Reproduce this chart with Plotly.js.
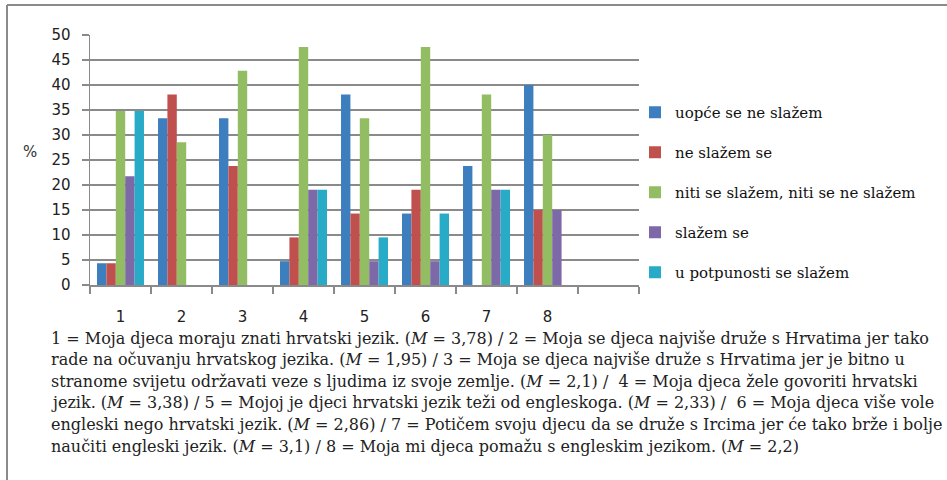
<!DOCTYPE html>
<html>
<head>
<meta charset="utf-8">
<script src="https://cdn.plot.ly/plotly-3.0.1.min.js"></script>
<style>
html,body{margin:0;padding:0;background:#fff;}
#chart{width:947px;height:480px;}
</style>
</head>
<body>
<div id="chart"></div>
<script>
// ---- data ----
var categories = ['1', '2', '3', '4', '5', '6', '7', '8'];
var seriesNames = [
  'uopće se ne slažem',
  'ne slažem se',
  'niti se slažem, niti se ne slažem',
  'slažem se',
  'u potpunosti se slažem'
];
var uopceSeNeSlazem      = [4.35, 33.33, 33.33, 4.76, 38.10, 14.29, 23.81, 40.0];
var neSlazemSe           = [4.35, 38.10, 23.81, 9.52, 14.29, 19.05, 0,     15.0];
var nitiSeSlazem         = [34.78, 28.57, 42.86, 47.62, 33.33, 47.62, 38.10, 30.0];
var slazemSe             = [21.74, 0,     0,     19.05, 4.76,  4.76,  19.05, 15.0];
var uPotpunostiSeSlazem  = [34.78, 0,     0,     19.05, 9.52,  14.29, 19.05, 0];
var yTickValues = [0, 5, 10, 15, 20, 25, 30, 35, 40, 45, 50];
var captionLines = [
  '1 = Moja djeca moraju znati hrvatski jezik. (<i>M</i> = 3,78) / 2 = Moja se djeca najviše druže s Hrvatima jer tako',
  'rade na očuvanju hrvatskog jezika. (<i>M</i> = 1,95) / 3 = Moja se djeca najviše druže s Hrvatima jer je bitno u',
  'stranome svijetu održavati veze s ljudima iz svoje zemlje. (<i>M</i> = 2,1) /  4 = Moja djeca žele govoriti hrvatski',
  'jezik. (<i>M</i> = 3,38) / 5 = Mojoj je djeci hrvatski jezik teži od engleskoga. (<i>M</i> = 2,33) /  6 = Moja djeca više vole',
  'engleski nego hrvatski jezik. (<i>M</i> = 2,86) / 7 = Potičem svoju djecu da se druže s Ircima jer će tako brže i bolje',
  'naučiti engleski jezik. (<i>M</i> = 3,1) / 8 = Moja mi djeca pomažu s engleskim jezikom. (<i>M</i> = 2,2)'
];

// ---- styles ----
var serif = '"DejaVu Serif", "Liberation Serif", serif';
var sans = '"DejaVu Sans", sans-serif';
var colors = ['#3D7EBF', '#C0504D', '#93BD63', '#7D68A8', '#27ABC7'];
var allSeries = [uopceSeNeSlazem, neSlazemSe, nitiSeSlazem, slazemSe, uPotpunostiSeSlazem];
var xPos = categories.map(function (c, i) { return i + 1; });

var traces = allSeries.map(function (vals, k) {
  return {
    type: 'bar',
    name: seriesNames[k],
    x: xPos,
    y: vals,
    legendgroup: 'g' + k,
    marker: {color: colors[k], line: {width: 0}},
    hoverinfo: 'skip'
  };
});

// plot area in pixels: x 90..639, y 35..285
var L = 90, R = 639, T = 35, B = 285;
var PW = R - L, PH = B - T;
function px(x) { return (x - L) / PW; }
function py(y) { return (B - y) / PH; }

var annotations = [{
  text: '%', xref: 'paper', yref: 'paper', x: px(30), y: py(152),
  xanchor: 'center', yanchor: 'middle', showarrow: false,
  font: {family: sans, size: 15, color: '#333'}
}];
captionLines.forEach(function (t, i) {
  annotations.push({
    text: t, xref: 'paper', yref: 'paper', x: px(49), y: py(338 + i * 21.6),
    xanchor: 'left', yanchor: 'middle', showarrow: false, align: 'left',
    font: {family: serif, size: 16, color: '#222'}
  });
});

var frameColor = '#8a8a8a';
var shapes = [
  {type: 'line', xref: 'paper', yref: 'paper', x0: px(7), x1: px(947), y0: py(5), y1: py(5),
   line: {color: frameColor, width: 2}},
  {type: 'line', xref: 'paper', yref: 'paper', x0: px(7), x1: px(7), y0: py(5), y1: py(480),
   line: {color: frameColor, width: 2}}
];

var layout = {
  width: 947, height: 480,
  margin: {l: L, r: 947 - R, t: T, b: 480 - B, pad: 0},
  paper_bgcolor: '#fff', plot_bgcolor: '#fff',
  barmode: 'group', bargap: 0.23, bargroupgap: 0,
  showlegend: true,
  legend: {
    x: px(635), y: py(96), xanchor: 'left', yanchor: 'top',
    font: {family: serif, size: 15, color: '#111'},
    tracegroupgap: 17.5, itemwidth: 30, bgcolor: 'rgba(0,0,0,0)'
  },
  xaxis: {
    range: [0.5, 9.5], tickvals: xPos, ticktext: categories,
    ticks: '', showgrid: false, zeroline: false,
    showline: true, linecolor: frameColor, linewidth: 1.5,
    ticklabelstandoff: 17,
    tickfont: {family: sans, size: 15, color: '#222'},
    minor: {tick0: 0.5, dtick: 1, ticks: 'outside', ticklen: 7, tickwidth: 1.5, tickcolor: frameColor, showgrid: false}
  },
  yaxis: {
    range: [0, 50], tickvals: yTickValues, ticktext: yTickValues.map(String),
    ticks: 'outside', ticklen: 7, tickwidth: 1.5, tickcolor: frameColor,
    showgrid: true, gridcolor: frameColor, gridwidth: 1.5,
    zeroline: false, showline: true, linecolor: frameColor, linewidth: 1.5,
    ticklabelstandoff: 8,
    tickfont: {family: sans, size: 15, color: '#222'}
  },
  annotations: annotations,
  shapes: shapes
};

Plotly.newPlot('chart', traces, layout, {displayModeBar: false, staticPlot: true});
</script>
</body>
</html>
